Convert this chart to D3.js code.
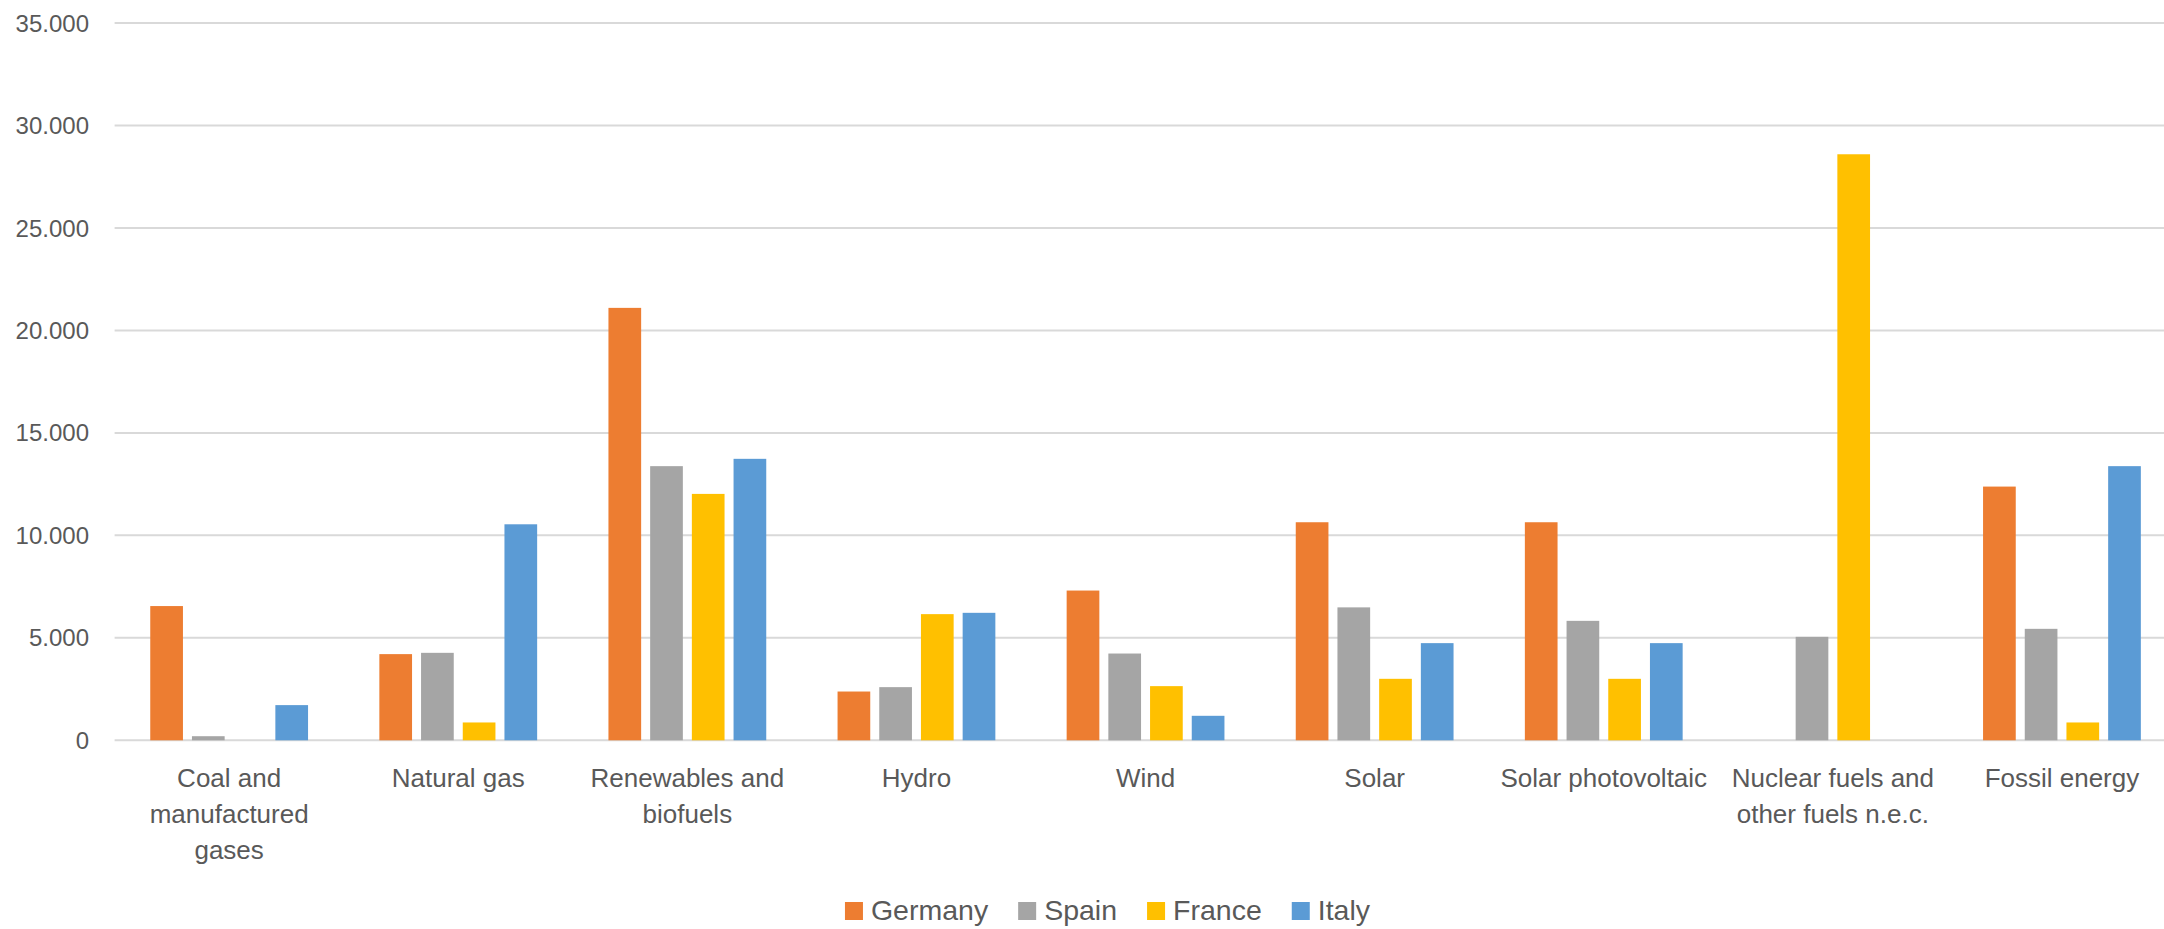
<!DOCTYPE html>
<html>
<head>
<meta charset="utf-8">
<script src="https://cdn.jsdelivr.net/npm/d3@7"></script>
<style>
  html, body { margin: 0; padding: 0; background: #ffffff; overflow: hidden; }
  svg { display: block; }
  text { font-family: "Liberation Sans", Arial, sans-serif; fill: #595959; }
</style>
</head>
<body>
<script>
// ---- data ----
const categories = [
  "Coal and manufactured gases", "Natural gas", "Renewables and biofuels",
  "Hydro", "Wind", "Solar", "Solar photovoltaic",
  "Nuclear fuels and other fuels n.e.c.", "Fossil energy"
];
const categoryLines = [
  ["Coal and", "manufactured", "gases"],
  ["Natural gas"],
  ["Renewables and", "biofuels"],
  ["Hydro"],
  ["Wind"],
  ["Solar"],
  ["Solar photovoltaic"],
  ["Nuclear fuels and", "other fuels n.e.c."],
  ["Fossil energy"]
];
const seriesNames = ["Germany", "Spain", "France", "Italy"];
const seriesColors = ["#ED7D31", "#A5A5A5", "#FFC000", "#5B9BD5"];
const germany = [6550, 4205, 21100, 2380, 7307, 10640, 10640, 0, 12380];
const spain   = [200, 4268, 13377, 2594, 4234, 6486, 5829, 5049, 5439];
const france  = [0, 870, 12023, 6156, 2643, 3000, 3000, 28595, 870];
const italy   = [1717, 10540, 13734, 6220, 1195, 4741, 4741, 0, 13377];
const seriesValues = [germany, spain, france, italy];
const yTicks = [0, 5000, 10000, 15000, 20000, 25000, 30000, 35000];

// ---- layout ----
const W = 2164, H = 929;
const plotLeft = 114.6, plotRight = 2176.5;
const yZero = 740.3, yTop = 23;

const svg = d3.select("body").append("svg")
  .attr("width", W).attr("height", H);

const locale = d3.formatLocale({ decimal: ",", thousands: ".", grouping: [3], currency: ["", "€"] });
const fmt = locale.format(",.0f");

const y = d3.scaleLinear().domain([0, 35000]).range([yZero, yTop]);
const x0 = d3.scaleBand().domain(categories).range([plotLeft, plotRight]).paddingInner(0).paddingOuter(0);
const x1 = d3.scaleBand().domain(seriesNames).range([0, x0.bandwidth()])
  .paddingInner(0.216).paddingOuter(0.855);

// gridlines
svg.append("g").selectAll("line").data(yTicks).join("line")
  .attr("x1", plotLeft).attr("x2", plotRight)
  .attr("y1", d => y(d)).attr("y2", d => y(d))
  .attr("stroke", "#d9d9d9").attr("stroke-width", 2);

// y tick labels
svg.append("g").selectAll("text").data(yTicks).join("text")
  .attr("x", 89).attr("y", d => y(d) + 8.6)
  .attr("text-anchor", "end")
  .style("font-size", "24px")
  .text(d => fmt(d));

// bars
const flat = [];
categories.forEach((c, ci) => {
  seriesNames.forEach((s, si) => {
    flat.push({ cat: c, series: s, value: seriesValues[si][ci], color: seriesColors[si] });
  });
});
svg.append("g").selectAll("rect").data(flat.filter(d => d.value > 0)).join("rect")
  .attr("x", d => x0(d.cat) + x1(d.series))
  .attr("width", x1.bandwidth())
  .attr("y", d => y(d.value))
  .attr("height", d => y(0) - y(d.value))
  .attr("fill", d => d.color);

// category labels
const catG = svg.append("g");
categories.forEach((c, ci) => {
  const t = catG.append("text")
    .attr("text-anchor", "middle")
    .style("font-size", "26px");
  categoryLines[ci].forEach((line, li) => {
    t.append("tspan")
      .attr("x", x0(c) + x0.bandwidth() / 2)
      .attr("y", 787 + li * 36)
      .text(line);
  });
});

// legend
const legend = svg.append("g");
const items = seriesNames.map((s, i) => {
  const g = legend.append("g");
  g.append("rect").attr("x", 0).attr("y", 902).attr("width", 18).attr("height", 18)
    .attr("fill", seriesColors[i]);
  const t = g.append("text").attr("x", 26).attr("y", 920)
    .style("font-size", "28.5px").text(s);
  return { g, w: 26 + t.node().getComputedTextLength() };
});
const gap = 30;
const total = items.reduce((a, b) => a + b.w, 0) + gap * (items.length - 1);
let cx = 1107.5 - total / 2;
items.forEach(it => {
  it.g.attr("transform", `translate(${cx},0)`);
  cx += it.w + gap;
});
</script>
</body>
</html>
